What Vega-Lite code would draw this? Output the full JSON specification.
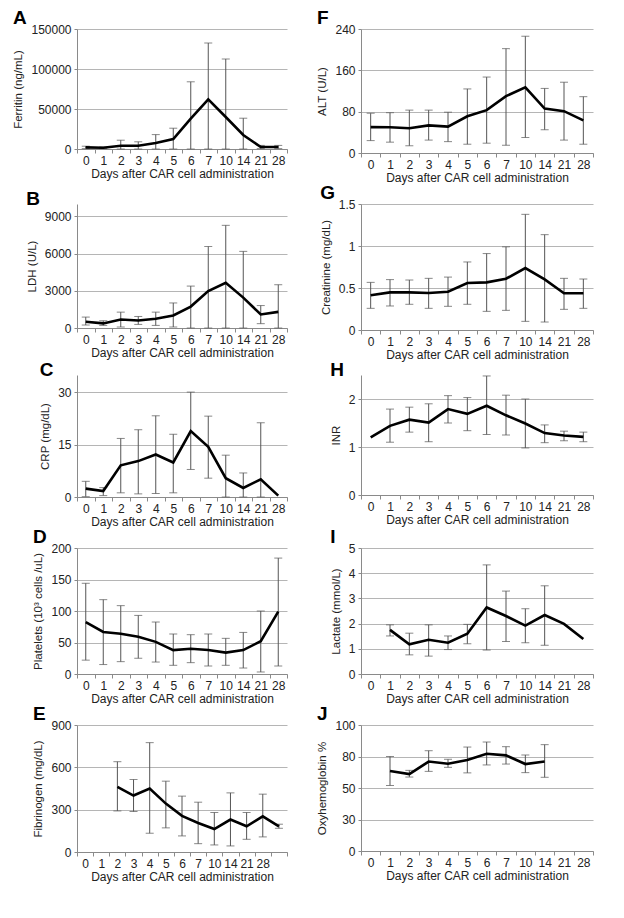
{
"$schema": "https://vega.github.io/schema/vega-lite/v6.json",
"background": "white",
"padding": {"left": 12, "top": 9, "right": 5, "bottom": 5},
"config": {
  "view": {"stroke": null},
  "font": "Liberation Sans",
  "title": {"font": "Liberation Sans", "fontSize": 19, "fontWeight": "bold", "color": "black", "anchor": "start", "frame": "bounds", "offset": -5},
  "axis": {"labelFont": "Liberation Sans", "titleFont": "Liberation Sans", "labelFontSize": 12, "titleFontSize": 12, "titleFontWeight": "normal", "labelColor": "#222", "titleColor": "#222", "domainColor": "#8a8a8a", "tickColor": "#8a8a8a"},
  "axisX": {"tickBand": "extent", "labelAngle": 0, "grid": false, "tickSize": 4, "labelPadding": 2, "titlePadding": 2},
  "axisY": {"grid": true, "gridColor": "#b5b5b5", "tickSize": 3, "labelPadding": 3, "titlePadding": 7, "titleFontSize": 11.5, "format": "~r", "tickCount": 12, "labelOverlap": false},
  "tick": {"color": "#555", "size": 8, "thickness": 1},
  "rule": {"color": "#555", "strokeWidth": 1},
  "line": {"color": "black", "strokeWidth": 2.6}
},
"data": {"values": [
{"p":"A","d":"0","m":2000,"lo":500,"hi":3500},
{"p":"A","d":"1","m":1500,"lo":500,"hi":2500},
{"p":"A","d":"2","m":4000,"lo":0,"hi":11000},
{"p":"A","d":"3","m":4000,"lo":0,"hi":9000},
{"p":"A","d":"4","m":7500,"lo":0,"hi":18000},
{"p":"A","d":"5","m":12500,"lo":0,"hi":26000},
{"p":"A","d":"6","m":38000,"lo":0,"hi":84000},
{"p":"A","d":"7","m":62000,"lo":0,"hi":132500},
{"p":"A","d":"10","m":40000,"lo":0,"hi":112500},
{"p":"A","d":"14","m":17500,"lo":0,"hi":38500},
{"p":"A","d":"21","m":2500,"lo":500,"hi":4500},
{"p":"A","d":"28","m":2500,"lo":500,"hi":4500},
{"p":"B","d":"0","m":500,"lo":240,"hi":880},
{"p":"B","d":"1","m":370,"lo":210,"hi":585},
{"p":"B","d":"2","m":690,"lo":80,"hi":1280},
{"p":"B","d":"3","m":610,"lo":290,"hi":930},
{"p":"B","d":"4","m":745,"lo":210,"hi":1280},
{"p":"B","d":"5","m":1010,"lo":80,"hi":2020},
{"p":"B","d":"6","m":1730,"lo":0,"hi":3380},
{"p":"B","d":"7","m":2980,"lo":0,"hi":6575},
{"p":"B","d":"10","m":3650,"lo":0,"hi":8280},
{"p":"B","d":"14","m":2450,"lo":0,"hi":6180},
{"p":"B","d":"21","m":1090,"lo":350,"hi":1810},
{"p":"B","d":"28","m":1300,"lo":0,"hi":3490},
{"p":"C","d":"0","m":2.4,"lo":0.1,"hi":4.5},
{"p":"C","d":"1","m":1.7,"lo":0.4,"hi":2.7},
{"p":"C","d":"2","m":9.1,"lo":1.2,"hi":16.8},
{"p":"C","d":"3","m":10.3,"lo":0.9,"hi":19.3},
{"p":"C","d":"4","m":12.2,"lo":1.0,"hi":23.3},
{"p":"C","d":"5","m":9.9,"lo":1.2,"hi":18.0},
{"p":"C","d":"6","m":18.9,"lo":7.9,"hi":30.1},
{"p":"C","d":"7","m":14.4,"lo":5.4,"hi":23.2},
{"p":"C","d":"10","m":5.4,"lo":0,"hi":12},
{"p":"C","d":"14","m":2.6,"lo":0,"hi":6.9},
{"p":"C","d":"21","m":5.1,"lo":0,"hi":21.3},
{"p":"C","d":"28","m":0.4},
{"p":"D","d":"0","m":82.5,"lo":22,"hi":144},
{"p":"D","d":"1","m":66.7,"lo":15,"hi":118},
{"p":"D","d":"2","m":64,"lo":19.6,"hi":108.5},
{"p":"D","d":"3","m":59,"lo":25,"hi":93},
{"p":"D","d":"4","m":51,"lo":19,"hi":82.5},
{"p":"D","d":"5","m":38,"lo":13.8,"hi":63.5},
{"p":"D","d":"6","m":40,"lo":18,"hi":62.4},
{"p":"D","d":"7","m":38,"lo":12.7,"hi":63.5},
{"p":"D","d":"10","m":34,"lo":13.8,"hi":56.6},
{"p":"D","d":"14","m":38,"lo":9.5,"hi":66},
{"p":"D","d":"21","m":52,"lo":3.2,"hi":100},
{"p":"D","d":"28","m":99,"lo":12.7,"hi":184},
{"p":"E","d":"2","m":462,"lo":291,"hi":640},
{"p":"E","d":"3","m":400,"lo":287,"hi":514},
{"p":"E","d":"4","m":450,"lo":133,"hi":775},
{"p":"E","d":"5","m":343,"lo":171,"hi":502},
{"p":"E","d":"6","m":256,"lo":114,"hi":396},
{"p":"E","d":"7","m":206,"lo":59,"hi":353},
{"p":"E","d":"10","m":163,"lo":50,"hi":280},
{"p":"E","d":"14","m":230,"lo":43,"hi":419},
{"p":"E","d":"21","m":182,"lo":90,"hi":280},
{"p":"E","d":"28","m":253,"lo":107,"hi":410},
{"p":"E","d":"end","m":182,"lo":168,"hi":197},
{"p":"F","d":"0","m":50,"lo":24,"hi":77},
{"p":"F","d":"1","m":49.7,"lo":21,"hi":78},
{"p":"F","d":"2","m":48,"lo":14,"hi":83},
{"p":"F","d":"3","m":53.5,"lo":25,"hi":83},
{"p":"F","d":"4","m":51,"lo":22,"hi":79},
{"p":"F","d":"5","m":71,"lo":17,"hi":124},
{"p":"F","d":"6","m":83,"lo":19,"hi":147},
{"p":"F","d":"7","m":110,"lo":15,"hi":202},
{"p":"F","d":"10","m":127,"lo":30,"hi":226},
{"p":"F","d":"14","m":86,"lo":45,"hi":125},
{"p":"F","d":"21","m":81,"lo":25,"hi":137},
{"p":"F","d":"28","m":63,"lo":17,"hi":109},
{"p":"G","d":"0","m":0.413,"lo":0.258,"hi":0.567},
{"p":"G","d":"1","m":0.448,"lo":0.286,"hi":0.6},
{"p":"G","d":"2","m":0.448,"lo":0.306,"hi":0.595},
{"p":"G","d":"3","m":0.44,"lo":0.258,"hi":0.615},
{"p":"G","d":"4","m":0.456,"lo":0.282,"hi":0.63},
{"p":"G","d":"5","m":0.56,"lo":0.306,"hi":0.81},
{"p":"G","d":"6","m":0.567,"lo":0.222,"hi":0.91},
{"p":"G","d":"7","m":0.61,"lo":0.234,"hi":0.99},
{"p":"G","d":"10","m":0.738,"lo":0.103,"hi":1.377},
{"p":"G","d":"14","m":0.603,"lo":0.095,"hi":1.135},
{"p":"G","d":"21","m":0.437,"lo":0.246,"hi":0.615},
{"p":"G","d":"28","m":0.437,"lo":0.258,"hi":0.607},
{"p":"H","d":"0","m":1.2},
{"p":"H","d":"1","m":1.44,"lo":1.1,"hi":1.79},
{"p":"H","d":"2","m":1.57,"lo":1.31,"hi":1.83},
{"p":"H","d":"3","m":1.51,"lo":1.11,"hi":1.9},
{"p":"H","d":"4","m":1.79,"lo":1.5,"hi":2.07},
{"p":"H","d":"5","m":1.69,"lo":1.34,"hi":2.03},
{"p":"H","d":"6","m":1.86,"lo":1.26,"hi":2.48},
{"p":"H","d":"7","m":1.66,"lo":1.25,"hi":2.08},
{"p":"H","d":"10","m":1.49,"lo":0.98,"hi":2.0},
{"p":"H","d":"14","m":1.29,"lo":1.09,"hi":1.46},
{"p":"H","d":"21","m":1.24,"lo":1.13,"hi":1.33},
{"p":"H","d":"28","m":1.21,"lo":1.11,"hi":1.31},
{"p":"I","d":"1","m":1.75,"lo":1.51,"hi":1.95},
{"p":"I","d":"2","m":1.18,"lo":0.76,"hi":1.62},
{"p":"I","d":"3","m":1.36,"lo":0.71,"hi":1.95},
{"p":"I","d":"4","m":1.24,"lo":0.97,"hi":1.51},
{"p":"I","d":"5","m":1.6,"lo":1.2,"hi":1.97},
{"p":"I","d":"6","m":2.64,"lo":0.95,"hi":4.33},
{"p":"I","d":"7","m":2.3,"lo":1.29,"hi":3.29},
{"p":"I","d":"10","m":1.92,"lo":1.24,"hi":2.59},
{"p":"I","d":"14","m":2.34,"lo":1.14,"hi":3.5},
{"p":"I","d":"21","m":1.99},
{"p":"I","d":"28","m":1.39},
{"p":"J","d":"1","m":63.5,"lo":52,"hi":75},
{"p":"J","d":"2","m":61,"lo":58.7,"hi":64},
{"p":"J","d":"3","m":71,"lo":63.2,"hi":79.6},
{"p":"J","d":"4","m":69.3,"lo":66.4,"hi":72.8},
{"p":"J","d":"5","m":72.2,"lo":62,"hi":82.5},
{"p":"J","d":"6","m":77.2,"lo":68.3,"hi":86.5},
{"p":"J","d":"7","m":75.9,"lo":69,"hi":82.8},
{"p":"J","d":"10","m":69,"lo":62.2,"hi":76.2},
{"p":"J","d":"14","m":71,"lo":58.5,"hi":84.4}
]},
"columns": 2,
"spacing": {"column": 28, "row": 1},
"concat": [
{"width": 210, "height": 120, "title": "A", "transform": [{"filter": "datum.p == 'A'"}],
 "encoding": {"x": {"field": "d", "type": "ordinal", "bandPosition": 0.5, "scale": {"type": "band", "domain": ["0","1","2","3","4","5","6","7","10","14","21","28"], "paddingInner": 0, "paddingOuter": 0}, "axis": {"title": "Days after CAR cell administration"}}},
 "layer": [
  {"mark": "rule", "encoding": {"y": {"field": "lo", "type": "quantitative", "title": "Ferritin (ng/mL)", "scale": {"domain": [0,150000], "nice": false}, "axis": {"values": [0,50000,100000,150000]}}, "y2": {"field": "hi"}}},
  {"mark": "tick", "encoding": {"y": {"field": "hi", "type": "quantitative", "title": "Ferritin (ng/mL)", "axis": {"values": [0,50000,100000,150000]}}}},
  {"mark": "tick", "encoding": {"y": {"field": "lo", "type": "quantitative", "title": "Ferritin (ng/mL)", "axis": {"values": [0,50000,100000,150000]}}}},
  {"mark": "line", "encoding": {"y": {"field": "m", "type": "quantitative", "title": "Ferritin (ng/mL)", "axis": {"values": [0,50000,100000,150000]}}}}
 ]},
{"width": 232, "height": 124, "title": "F", "transform": [{"filter": "datum.p == 'F'"}],
 "encoding": {"x": {"field": "d", "type": "ordinal", "bandPosition": 0.5, "scale": {"type": "band", "domain": ["0","1","2","3","4","5","6","7","10","14","21","28"], "paddingInner": 0, "paddingOuter": 0}, "axis": {"title": "Days after CAR cell administration"}}},
 "layer": [
  {"mark": "rule", "encoding": {"y": {"field": "lo", "type": "quantitative", "title": "ALT (U/L)", "scale": {"domain": [0,240], "nice": false}, "axis": {"values": [0,80,160,240]}}, "y2": {"field": "hi"}}},
  {"mark": "tick", "encoding": {"y": {"field": "hi", "type": "quantitative", "title": "ALT (U/L)", "axis": {"values": [0,80,160,240]}}}},
  {"mark": "tick", "encoding": {"y": {"field": "lo", "type": "quantitative", "title": "ALT (U/L)", "axis": {"values": [0,80,160,240]}}}},
  {"mark": "line", "encoding": {"y": {"field": "m", "type": "quantitative", "title": "ALT (U/L)", "axis": {"values": [0,80,160,240]}}}}
 ]},
{"width": 210, "height": 124, "title": "B", "transform": [{"filter": "datum.p == 'B'"}],
 "encoding": {"x": {"field": "d", "type": "ordinal", "bandPosition": 0.5, "scale": {"type": "band", "domain": ["0","1","2","3","4","5","6","7","10","14","21","28"], "paddingInner": 0, "paddingOuter": 0}, "axis": {"title": "Days after CAR cell administration"}}},
 "layer": [
  {"mark": "rule", "encoding": {"y": {"field": "lo", "type": "quantitative", "title": "LDH (U/L)", "scale": {"domain": [0,10000], "nice": false}, "axis": {"values": [0,3000,6000,9000]}}, "y2": {"field": "hi"}}},
  {"mark": "tick", "encoding": {"y": {"field": "hi", "type": "quantitative", "title": "LDH (U/L)", "axis": {"values": [0,3000,6000,9000]}}}},
  {"mark": "tick", "encoding": {"y": {"field": "lo", "type": "quantitative", "title": "LDH (U/L)", "axis": {"values": [0,3000,6000,9000]}}}},
  {"mark": "line", "encoding": {"y": {"field": "m", "type": "quantitative", "title": "LDH (U/L)", "axis": {"values": [0,3000,6000,9000]}}}}
 ]},
{"width": 232, "height": 126, "title": "G", "transform": [{"filter": "datum.p == 'G'"}],
 "encoding": {"x": {"field": "d", "type": "ordinal", "bandPosition": 0.5, "scale": {"type": "band", "domain": ["0","1","2","3","4","5","6","7","10","14","21","28"], "paddingInner": 0, "paddingOuter": 0}, "axis": {"title": "Days after CAR cell administration"}}},
 "layer": [
  {"mark": "rule", "encoding": {"y": {"field": "lo", "type": "quantitative", "title": "Creatinine (mg/dL)", "scale": {"domain": [0,1.5], "nice": false}, "axis": {"values": [0,0.5,1,1.5]}}, "y2": {"field": "hi"}}},
  {"mark": "tick", "encoding": {"y": {"field": "hi", "type": "quantitative", "title": "Creatinine (mg/dL)", "axis": {"values": [0,0.5,1,1.5]}}}},
  {"mark": "tick", "encoding": {"y": {"field": "lo", "type": "quantitative", "title": "Creatinine (mg/dL)", "axis": {"values": [0,0.5,1,1.5]}}}},
  {"mark": "line", "encoding": {"y": {"field": "m", "type": "quantitative", "title": "Creatinine (mg/dL)", "axis": {"values": [0,0.5,1,1.5]}}}}
 ]},
{"width": 210, "height": 122, "title": "C", "transform": [{"filter": "datum.p == 'C'"}],
 "encoding": {"x": {"field": "d", "type": "ordinal", "bandPosition": 0.5, "scale": {"type": "band", "domain": ["0","1","2","3","4","5","6","7","10","14","21","28"], "paddingInner": 0, "paddingOuter": 0}, "axis": {"title": "Days after CAR cell administration"}}},
 "layer": [
  {"mark": "rule", "encoding": {"y": {"field": "lo", "type": "quantitative", "title": "CRP (mg/dL)", "scale": {"domain": [0,35], "nice": false}, "axis": {"values": [0,15,30]}}, "y2": {"field": "hi"}}},
  {"mark": "tick", "encoding": {"y": {"field": "hi", "type": "quantitative", "title": "CRP (mg/dL)", "axis": {"values": [0,15,30]}}}},
  {"mark": "tick", "encoding": {"y": {"field": "lo", "type": "quantitative", "title": "CRP (mg/dL)", "axis": {"values": [0,15,30]}}}},
  {"mark": "line", "encoding": {"y": {"field": "m", "type": "quantitative", "title": "CRP (mg/dL)", "axis": {"values": [0,15,30]}}}}
 ]},
{"width": 232, "height": 120, "title": "H", "transform": [{"filter": "datum.p == 'H'"}],
 "encoding": {"x": {"field": "d", "type": "ordinal", "bandPosition": 0.5, "scale": {"type": "band", "domain": ["0","1","2","3","4","5","6","7","10","14","21","28"], "paddingInner": 0, "paddingOuter": 0}, "axis": {"title": "Days after CAR cell administration"}}},
 "layer": [
  {"mark": "rule", "encoding": {"y": {"field": "lo", "type": "quantitative", "title": "INR", "scale": {"domain": [0,2.5], "nice": false}, "axis": {"values": [0,1,2]}}, "y2": {"field": "hi"}}},
  {"mark": "tick", "encoding": {"y": {"field": "hi", "type": "quantitative", "title": "INR", "axis": {"values": [0,1,2]}}}},
  {"mark": "tick", "encoding": {"y": {"field": "lo", "type": "quantitative", "title": "INR", "axis": {"values": [0,1,2]}}}},
  {"mark": "line", "encoding": {"y": {"field": "m", "type": "quantitative", "title": "INR", "axis": {"values": [0,1,2]}}}}
 ]},
{"width": 210, "height": 126, "title": "D", "transform": [{"filter": "datum.p == 'D'"}],
 "encoding": {"x": {"field": "d", "type": "ordinal", "bandPosition": 0.5, "scale": {"type": "band", "domain": ["0","1","2","3","4","5","6","7","10","14","21","28"], "paddingInner": 0, "paddingOuter": 0}, "axis": {"title": "Days after CAR cell administration"}}},
 "layer": [
  {"mark": "rule", "encoding": {"y": {"field": "lo", "type": "quantitative", "title": "Platelets (10³ cells /uL)", "scale": {"domain": [0,200], "nice": false}, "axis": {"values": [0,50,100,150,200]}}, "y2": {"field": "hi"}}},
  {"mark": "tick", "encoding": {"y": {"field": "hi", "type": "quantitative", "title": "Platelets (10³ cells /uL)", "axis": {"values": [0,50,100,150,200]}}}},
  {"mark": "tick", "encoding": {"y": {"field": "lo", "type": "quantitative", "title": "Platelets (10³ cells /uL)", "axis": {"values": [0,50,100,150,200]}}}},
  {"mark": "line", "encoding": {"y": {"field": "m", "type": "quantitative", "title": "Platelets (10³ cells /uL)", "axis": {"values": [0,50,100,150,200]}}}}
 ]},
{"width": 232, "height": 126, "title": "I", "transform": [{"filter": "datum.p == 'I'"}],
 "encoding": {"x": {"field": "d", "type": "ordinal", "bandPosition": 0.5, "scale": {"type": "band", "domain": ["0","1","2","3","4","5","6","7","10","14","21","28"], "paddingInner": 0, "paddingOuter": 0}, "axis": {"title": "Days after CAR cell administration"}}},
 "layer": [
  {"mark": "rule", "encoding": {"y": {"field": "lo", "type": "quantitative", "title": "Lactate (mmol/L)", "scale": {"domain": [0,5], "nice": false}, "axis": {"values": [0,1,2,3,4,5]}}, "y2": {"field": "hi"}}},
  {"mark": "tick", "encoding": {"y": {"field": "hi", "type": "quantitative", "title": "Lactate (mmol/L)", "axis": {"values": [0,1,2,3,4,5]}}}},
  {"mark": "tick", "encoding": {"y": {"field": "lo", "type": "quantitative", "title": "Lactate (mmol/L)", "axis": {"values": [0,1,2,3,4,5]}}}},
  {"mark": "line", "encoding": {"y": {"field": "m", "type": "quantitative", "title": "Lactate (mmol/L)", "axis": {"values": [0,1,2,3,4,5]}}}}
 ]},
{"width": 210, "height": 127, "title": "E", "transform": [{"filter": "datum.p == 'E'"}],
 "encoding": {"x": {"field": "d", "type": "ordinal", "bandPosition": 0.5, "scale": {"type": "band", "domain": ["0","1","2","3","4","5","6","7","10","14","21","28","end"], "paddingInner": 0, "paddingOuter": 0}, "axis": {"title": "Days after CAR cell administration", "labelExpr": "datum.value == 'end' ? '' : datum.value"}}},
 "layer": [
  {"mark": "rule", "encoding": {"y": {"field": "lo", "type": "quantitative", "title": "Fibrinogen (mg/dL)", "scale": {"domain": [0,900], "nice": false}, "axis": {"values": [0,300,600,900]}}, "y2": {"field": "hi"}}},
  {"mark": "tick", "encoding": {"y": {"field": "hi", "type": "quantitative", "title": "Fibrinogen (mg/dL)", "axis": {"values": [0,300,600,900]}}}},
  {"mark": "tick", "encoding": {"y": {"field": "lo", "type": "quantitative", "title": "Fibrinogen (mg/dL)", "axis": {"values": [0,300,600,900]}}}},
  {"mark": "line", "encoding": {"y": {"field": "m", "type": "quantitative", "title": "Fibrinogen (mg/dL)", "axis": {"values": [0,300,600,900]}}}}
 ]},
{"width": 232, "height": 126, "title": "J", "transform": [{"filter": "datum.p == 'J'"}],
 "encoding": {"x": {"field": "d", "type": "ordinal", "bandPosition": 0.5, "scale": {"type": "band", "domain": ["0","1","2","3","4","5","6","7","10","14","21","28"], "paddingInner": 0, "paddingOuter": 0}, "axis": {"title": "Days after CAR cell administration"}}},
 "layer": [
  {"mark": "rule", "encoding": {"y": {"field": "lo", "type": "quantitative", "title": "Oxyhemoglobin  %", "scale": {"domain": [0,100], "nice": false}, "axis": {"values": [0,25,50,75,100]}}, "y2": {"field": "hi"}}},
  {"mark": "tick", "encoding": {"y": {"field": "hi", "type": "quantitative", "title": "Oxyhemoglobin  %", "axis": {"values": [0,25,50,75,100]}}}},
  {"mark": "tick", "encoding": {"y": {"field": "lo", "type": "quantitative", "title": "Oxyhemoglobin  %", "axis": {"values": [0,25,50,75,100]}}}},
  {"mark": "line", "encoding": {"y": {"field": "m", "type": "quantitative", "title": "Oxyhemoglobin  %", "axis": {"values": [0,25,50,75,100]}}}}
 ]}
]
}
